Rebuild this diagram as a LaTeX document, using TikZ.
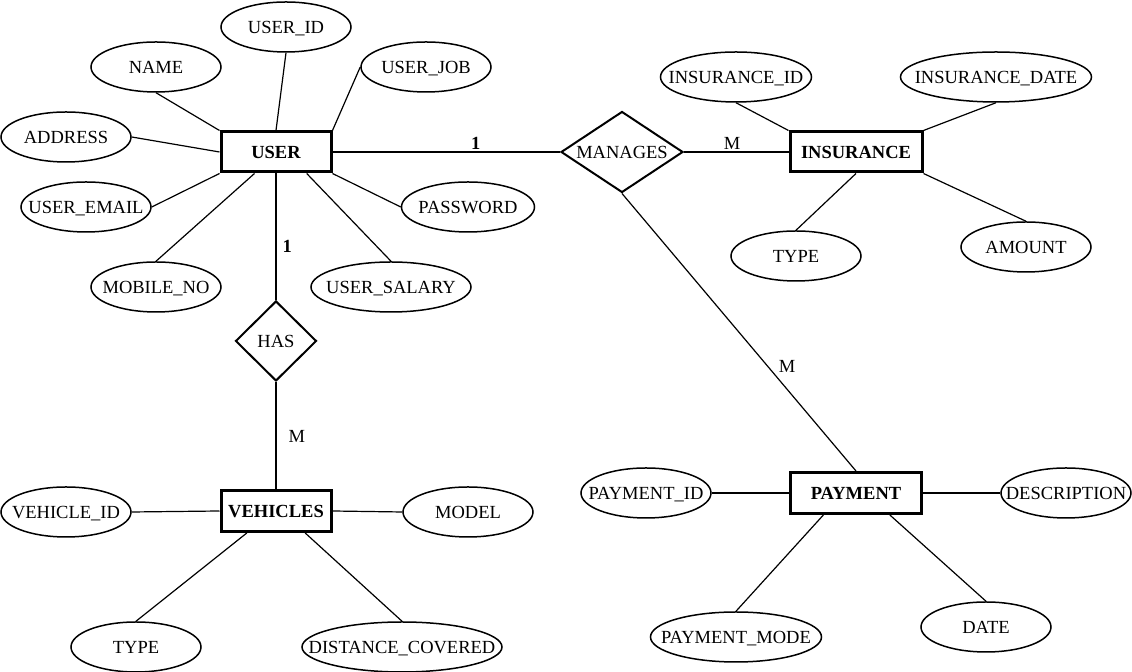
\documentclass[tikz,border=0pt]{standalone}
\usepackage{fontspec}
\setmainfont{Liberation Serif}
\usetikzlibrary{shapes.geometric}
\tikzset{
	every node/.style={font=\fontsize{9.25}{11}\selectfont, text depth=0pt},
	entity/.style={draw, line width=1.5pt, minimum width=55pt, minimum height=20pt, inner sep=0pt, font=\fontsize{9.25}{11}\selectfont\bfseries},
	attrib/.style={draw, ellipse, line width=0.75pt, minimum width=65pt, minimum height=25pt, inner sep=0pt,
		execute at begin node={\hbox to 0pt\bgroup\hss}, execute at end node={\hss\egroup}},
	relship/.style={draw, diamond, aspect=1.5, line width=1pt, inner sep=0pt},
	card/.style={inner sep=1pt},
	link/.style={line width=0.6pt}
}

\begin{document}
\begin{tikzpicture}[x=0.5pt, y=-0.5pt]
	\useasboundingbox (0,0) rectangle (1132,672);

% user + attributes
	\node[entity] (user) at (276,152) {USER};
	\node[attrib] (userid) at (286,27) {USER\_ID};
	\node[attrib] (name) at (156,67) {NAME};
	\node[attrib] (userjob) at (426,67) {USER\_JOB};
	\node[attrib] (address) at (66,137) {ADDRESS};
	\node[attrib] (useremail) at (86,207) {USER\_EMAIL};
	\node[attrib, minimum width=66.5pt] (password) at (468,207) {PASSWORD};
	\node[attrib] (mobile) at (156,287) {MOBILE\_NO};
	\node[attrib, minimum width=80pt] (salary) at (391,287) {USER\_SALARY};

% insurance + attributes
	\node[relship, minimum width=61pt, minimum height=40.5pt] (manages) at (622,152) {MANAGES};
	\node[entity, minimum width=66pt] (insurance) at (856,152) {INSURANCE};
	\node[attrib, minimum width=75.5pt] (insid) at (736,77) {INSURANCE\_ID};
	\node[attrib, minimum width=95.5pt] (insdate) at (996,77) {INSURANCE\_DATE};
	\node[attrib] (instype) at (796,256) {TYPE};
	\node[attrib] (amount) at (1026,247) {AMOUNT};

% payment + attributes
	\node[entity, minimum width=65.5pt, minimum height=20.5pt] (payment) at (856,493) {PAYMENT};
	\node[attrib] (payid) at (646,493) {PAYMENT\_ID};
	\node[attrib] (descr) at (1066,493) {DESCRIPTION};
	\node[attrib, minimum width=85.5pt] (paymode) at (736,637) {PAYMENT\_MODE};
	\node[attrib] (date) at (986,627) {DATE};

% vehicles + attributes
	\node[relship, aspect=1, minimum width=40.5pt, minimum height=40pt] (has) at (276,341) {HAS};
	\node[entity, minimum height=20.5pt] (vehicles) at (276,511) {VEHICLES};
	\node[attrib] (vehid) at (66,512) {VEHICLE\_ID};
	\node[attrib] (model) at (468,512) {MODEL};
	\node[attrib] (vtype) at (136,647) {TYPE};
	\node[attrib, minimum width=100pt] (distance) at (402,647) {DISTANCE\_COVERED};

% links user
	\draw[link] (userid.south) -- (user.north);
	\draw[link] (name.south) -- (user.north west);
	\draw[link] (userjob.west) -- (user.north east);
	\draw[link] (address.east) -- (user.west);
	\draw[link] (useremail.east) -- (user.south west);
	\draw[link] (mobile.north) -- (user.225);
	\draw[link] (salary.north) -- (user.-35);
	\draw[link] (password.west) -- (user.south east);

% links insurance
	\draw[link] (insid.south) -- (insurance.north west);
	\draw[link] (insdate.south) -- (insurance.north east);
	\draw[link] (instype.north) -- (insurance.south);
	\draw[link] (amount.north) -- (insurance.south east);

% links payment
	\draw[link] (payid.east) -- (payment.west);
	\draw[link] (payment.east) -- (descr.west);
	\draw[link] (paymode.north) -- (payment.-146);
	\draw[link] (date.north) -- (payment.-33);

% links vehicles
	\draw[link] (vehid.east) -- (vehicles.west);
	\draw[link] (vehicles.east) -- (model.west);
	\draw[link] (vtype.north) -- (vehicles.-143);
	\draw[link] (distance.north) -- (vehicles.-37);

% relationships
	\draw[link] (user.east) -- node[card, pos=0.63, above, font=\fontsize{9.25}{11}\selectfont\bfseries]{1} (manages.west);
	\draw[link] (manages.east) -- node[card, pos=0.46, above]{M} (insurance.west);
	\draw[link] (manages.south) -- node[card, pos=0.625, right=4pt]{M} (payment.north);
	\draw[link] (user.south) -- node[card, pos=0.58, right=2pt, font=\fontsize{9.25}{11}\selectfont\bfseries]{1} (has.north);
	\draw[link] (has.south) -- node[card, pos=0.51, right=5pt]{M} (vehicles.north);

\end{tikzpicture}
\end{document}
